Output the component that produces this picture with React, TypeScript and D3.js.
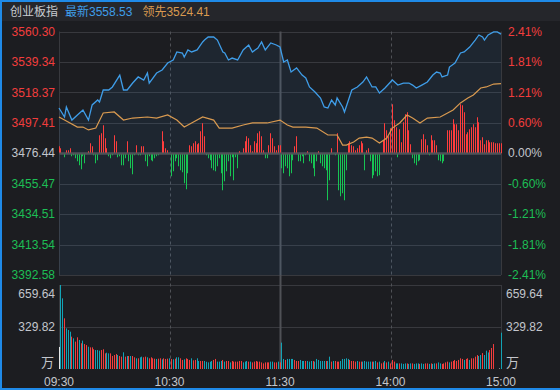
import React from 'react';
import * as d3 from 'd3';

const W = 560;
const H = 390;

const titleName = '创业板指';
const titleLatest = '最新3558.53';
const titleLead = '领先3524.41';

const PRE_CLOSE = 3476.44;
const priceTicks = [3560.30, 3539.34, 3518.37, 3497.41, 3476.44, 3455.47, 3434.51, 3413.54, 3392.58];
const pctTicks = ['2.41%', '1.81%', '1.21%', '0.60%', '0.00%', '-0.60%', '-1.21%', '-1.81%', '-2.41%'];
const timeLabels = ['09:30', '10:30', '11:30', '14:00', '15:00'];
const timeMinutes = [0, 60, 120, 180, 240];
const volumeTicks = [659.64, 329.82];
const volumeTickLabels = ['659.64', '329.82'];
const volumeUnit = '万';

const priceMinutes = [0,3,4,7,10,13,16,18,21,22,24,27,29,33,35,37,40,43,46,48,49,53,56,59,62,64,67,68,70,72,75,78,79,81,84,86,89,90,92,94,97,100,103,105,108,110,112,115,118,120,122,124,126,129,132,134,136,139,142,144,146,148,150,151,154,155,159,162,165,167,170,172,174,177,180,181,184,187,190,192,194,197,200,203,205,207,208,211,212,215,218,220,223,226,228,230,231,233,236,238,240];
const priceValues = [3507.6,3501.4,3508.3,3499.3,3502.8,3506.2,3499.3,3509.7,3513.1,3511.7,3520.0,3520.0,3522.1,3530.3,3520.0,3520.0,3524.8,3529.0,3526.9,3531.7,3524.8,3531.7,3533.8,3538.6,3540.7,3546.2,3545.5,3542.7,3547.6,3546.2,3547.6,3553.1,3554.4,3556.5,3556.5,3554.4,3546.2,3545.5,3540.7,3542.0,3540.7,3547.6,3551.0,3546.2,3548.9,3553.1,3547.6,3552.4,3551.0,3549.6,3539.3,3540.7,3532.4,3535.2,3530.3,3528.3,3522.1,3518.6,3514.5,3508.3,3507.6,3513.1,3509.7,3514.5,3508.3,3504.9,3520.0,3522.1,3525.5,3529.0,3522.1,3522.1,3517.9,3521.4,3525.5,3526.9,3523.4,3524.8,3524.8,3523.4,3521.4,3523.4,3525.5,3530.3,3532.4,3531.7,3529.0,3530.3,3535.8,3538.6,3545.5,3546.2,3549.6,3554.4,3557.9,3556.5,3554.4,3557.9,3560.0,3560.0,3558.53];

const leadMinutes = [0,3,10,13,16,20,24,30,35,40,48,53,59,64,68,72,78,84,87,94,100,105,113,120,124,127,134,140,146,151,154,156,160,163,167,170,174,178,181,185,189,192,196,200,207,211,214,218,222,225,229,232,236,240];
const leadValues = [3501.4,3499.3,3494.5,3494.5,3492.5,3493.8,3504.2,3504.9,3499.3,3500.7,3501.4,3500.7,3502.8,3499.3,3494.5,3497.3,3501.4,3499.3,3493.8,3493.8,3495.9,3497.3,3497.3,3499.3,3495.9,3494.5,3494.5,3493.8,3489.0,3489.0,3482.1,3482.1,3484.2,3486.9,3487.6,3486.9,3483.5,3486.9,3493.8,3497.3,3502.8,3500.7,3497.3,3500.7,3501.4,3504.2,3506.2,3511.1,3514.5,3516.6,3521.4,3522.1,3524.1,3524.41];

// per-minute buy/sell strength bars (0..240)
const strengthValues = [
  7,5,0,-4,3,3,5,-3,-2,-5,
  -8,-12,-16,-3,-10,0,2,10,7,-2,
  -10,-7,18,20,28,15,5,-3,-5,-2,
  18,12,-4,-3,-12,-12,-5,12,-8,-15,
  -21,-2,8,-2,-2,7,7,-8,-13,-3,
  -7,-8,-5,-3,-2,0,22,12,5,3,
  0,-23,-18,-8,-5,-13,-17,-19,-30,-36,
  -20,8,7,10,12,9,10,22,30,17,
  -2,-5,-7,-15,-17,-18,-13,-5,-20,-37,
  -28,-18,-8,-23,-4,-27,-4,-15,2,0,
  5,12,17,15,8,2,12,10,20,22,
  17,3,-5,-5,8,20,15,7,3,8,
  8,-15,-20,-13,-15,-23,-20,-7,7,17,
  -8,-8,-3,-10,-2,2,-8,-10,-15,-23,
  -8,2,-10,-13,-15,-17,-47,-27,5,0,
  -2,20,-37,-43,-40,-47,-17,10,12,8,
  7,3,5,8,12,10,-17,3,5,-8,
  -25,-22,-18,-23,-22,-1,13,30,23,17,
  25,49,33,26,-4,24,11,31,39,41,
  23,9,-5,-10,-12,-8,-7,14,19,14,
  8,-2,18,13,13,8,-7,-8,-10,-8,
  0,23,23,23,34,29,29,23,49,48,
  41,19,21,24,26,29,26,36,31,13,
  16,9,13,13,11,11,11,10,10,10,10,
];

// per-minute volume (万) 0..240
const volumeValues = [
  173,
  659.64,555,398,319,306,293,254,241,215,249,
  228,202,223,196,188,175,170,170,155,149,
  149,144,149,155,123,128,123,123,102,110,
  118,110,102,97,131,97,102,102,102,102,
  92,84,84,92,97,92,97,92,84,92,
  84,81,79,81,84,76,84,79,81,84,
  79,76,81,92,92,84,71,76,84,79,
  71,84,68,71,84,63,63,63,63,57,
  52,57,63,71,79,58,58,63,71,58,
  63,63,52,63,58,58,58,63,63,52,
  58,63,58,58,52,58,63,58,58,52,
  44,52,52,52,58,58,52,52,58,52,
  207,79,71,79,79,79,79,71,63,63,
  71,63,63,63,63,58,63,63,58,79,
  71,63,63,63,63,63,97,58,63,63,
  58,58,63,79,79,84,79,71,63,63,
  58,63,58,58,58,63,58,58,58,58,
  58,63,52,58,44,52,63,52,58,44,
  71,58,44,44,44,44,40,44,44,40,
  44,44,40,44,44,40,44,40,44,44,
  40,44,40,44,44,52,44,40,44,52,
  58,52,58,63,71,63,71,84,79,71,
  79,84,71,84,84,97,110,102,110,125,
  110,144,130,149,165,196,0,0,4,285,
];
// r = up (red), c = down (cyan), w = auction / flat (white)
const volumeDirections = (
  'w' +
  'ccrcccrcrr' + 'crcrrcrrrc' + 'ccrrrccrrr' + 'rcrrcrcrcr' + 'rcrccrrcrr' + 'rrcrrcrrrc' +
  'rcrccrrcrr' + 'rcrrccrrcc' + 'cccrrcccrc' + 'rrcrrrrrrc' + 'ccrcrrrrrr' + 'rrrrccrrcr' +
  'ccrccccrrr' + 'cccrcccrcc' + 'ccccrccrcr' + 'rrcccccrrr' + 'rcrrcccccr' + 'ccrcrrcrcr' +
  'rrccrcccrc' + 'crcccrccrr' + 'crccrccrrr' + 'rcrrrrrrrc' + 'rrcrrrrccr' + 'cccrrrwwwc'
).split('');

const C = {
  bg: '#1c1d21',
  titleBg: '#25262b',
  border: '#1f8ae8',
  grid: '#38393e',
  gridStrong: '#4f5156',
  red: '#f23d3d',
  barRed: '#ff3d3d',
  green: '#1dbf55',
  barGreen: '#17c553',
  cyan: '#12a3b5',
  white: '#e6e6e6',
  label: '#c3c6cc',
  blue: '#3f9de8',
  orange: '#d99a50',
  title: '#c8cbd0',
};

const FONT = "'Liberation Sans', Arial, 'Noto Sans CJK SC', sans-serif";

export default function App() {
  const left = 59;
  const right = 501;
  const priceTop = 31.5;
  const priceBottom = 275;
  const volTop = 285;
  const volBottom = 369;

  const x = d3.scaleLinear().domain([0, 240]).range([left, right]);
  const yMin = priceTicks[priceTicks.length - 1];
  const yMax = priceTicks[0];
  const y = d3.scaleLinear().domain([yMin, yMax]).range([priceBottom, priceTop]);
  const zeroY = y(PRE_CLOSE);
  const s = d3.scaleLinear().domain([-50, 50]).range([zeroY + 50, zeroY - 50]);
  const v = d3.scaleLinear().domain([0, volumeTicks[0]]).range([volBottom, volTop]);

  const pricePts = priceMinutes.map((m, i) => [m, priceValues[i]] as [number, number]);
  const leadPts = leadMinutes.map((m, i) => [m, leadValues[i]] as [number, number]);

  const line = d3.line<[number, number]>().x(d => x(d[0])).y(d => y(d[1]));
  const area = d3.area<[number, number]>().x(d => x(d[0])).y0(priceBottom).y1(d => y(d[1]));

  const labelColor = (val: number) =>
    Math.abs(val - PRE_CLOSE) < 0.005 ? C.label : val > PRE_CLOSE ? C.red : C.green;

  return (
    <svg
      width={W}
      height={H}
      style={{ position: 'absolute', left: 0, top: 0, display: 'block', background: C.bg }}
      fontFamily={FONT}
    >
      <rect x={0} y={0} width={W} height={H} fill={C.bg} />
      <rect x={0} y={0} width={W} height={21} fill={C.titleBg} />
      <rect x={0} y={0} width={W} height={2} fill={C.border} />
      <rect x={0} y={0} width={2} height={H} fill={C.border} />
      <rect x={0} y={H - 2} width={W} height={2} fill={C.border} />

      <text x={10} y={16} fontSize={12} fill={C.title}>
        {titleName}
        <tspan dx={7} fill={C.blue}>{titleLatest}</tspan>
        <tspan dx={10} fill={C.orange}>{titleLead}</tspan>
      </text>

      {/* price grid */}
      {priceTicks.map((t, i) => (
        <line key={'hg' + i} x1={left} x2={right} y1={Math.round(y(t)) + 0.5} y2={Math.round(y(t)) + 0.5}
          stroke={i === 4 ? C.gridStrong : C.grid} strokeWidth={i === 4 ? 2 : 1} />
      ))}
      {volumeTicks.map((t, i) => (
        <line key={'vg' + i} x1={left} x2={right} y1={Math.round(v(t)) + 0.5} y2={Math.round(v(t)) + 0.5}
          stroke={C.grid} strokeWidth={1} />
      ))}
      {[left, right].map((xx, i) => (
        <g key={'frame' + i}>
          <line x1={Math.round(xx) + 0.5} x2={Math.round(xx) + 0.5} y1={priceTop} y2={priceBottom} stroke={C.grid} />
          <line x1={Math.round(xx) + 0.5} x2={Math.round(xx) + 0.5} y1={volTop} y2={volBottom} stroke={C.grid} />
        </g>
      ))}
      {timeMinutes.slice(1, 4).map((m, i) => {
        const xx = Math.round(x(m)) + 0.5;
        return m === 120 ? (
          <line key={'vt' + i} x1={xx} x2={xx} y1={priceTop} y2={volBottom} stroke={C.gridStrong} strokeWidth={2} />
        ) : (
          <line key={'vt' + i} x1={xx} x2={xx} y1={priceTop} y2={volBottom} stroke={C.gridStrong}
            strokeWidth={1} strokeDasharray="3,3" />
        );
      })}

      {/* area under price */}
      <path d={area(pricePts) || ''} fill={C.blue} fillOpacity={0.08} />

      {/* strength bars */}
      {strengthValues.map((val, i) => {
        if (val === 0) return null;
        const xx = Math.floor(x(i));
        const y0 = s(0);
        const y1 = s(val);
        return (
          <rect key={'sb' + i} x={xx} width={1} y={Math.min(y0, y1)} height={Math.abs(y1 - y0)}
            fill={val > 0 ? C.barRed : C.barGreen} />
        );
      })}
      <line x1={left} x2={right} y1={Math.round(zeroY) + 0.5} y2={Math.round(zeroY) + 0.5} stroke={C.gridStrong} strokeWidth={2} />

      {/* lines */}
      <path d={line(leadPts) || ''} fill="none" stroke={C.orange} strokeWidth={1.2} />
      <path d={line(pricePts) || ''} fill="none" stroke={C.blue} strokeWidth={1.3} />

      {/* volume bars */}
      {volumeValues.map((val, i) => {
        if (val <= 0) return null;
        const dir = volumeDirections[i];
        const xx = Math.floor(x(i));
        return (
          <rect key={'vb' + i} x={xx} width={1} y={v(val)} height={volBottom - v(val)}
            fill={dir === 'r' ? C.red : dir === 'c' ? C.cyan : C.white} />
        );
      })}

      {/* price labels */}
      {priceTicks.map((t, i) => (
        <text key={'pl' + i} x={55} y={y(t)} dy="0.35em" textAnchor="end" fontSize={12} fill={labelColor(t)}>
          {t.toFixed(2)}
        </text>
      ))}
      {pctTicks.map((t, i) => (
        <text key={'pr' + i} x={508} y={y(priceTicks[i])} dy="0.35em" textAnchor="start" fontSize={12}
          fill={labelColor(priceTicks[i])}>
          {t}
        </text>
      ))}

      {/* volume labels */}
      {volumeTickLabels.map((t, i) => (
        <g key={'vl' + i}>
          <text x={55} y={i === 0 ? v(volumeTicks[i]) + 8.5 : v(volumeTicks[i])} dy="0.35em" textAnchor="end" fontSize={12} fill={C.label}>{t}</text>
          <text x={506} y={i === 0 ? v(volumeTicks[i]) + 8.5 : v(volumeTicks[i])} dy="0.35em" textAnchor="start" fontSize={12} fill={C.label}>{t}</text>
        </g>
      ))}
      <text x={54} y={362} dy="0.35em" textAnchor="end" fontSize={13} fill={C.label}>{volumeUnit}</text>
      <text x={506} y={362} dy="0.35em" textAnchor="start" fontSize={13} fill={C.label}>{volumeUnit}</text>

      {/* time labels */}
      {timeLabels.map((t, i) => (
        <text key={'tl' + i} x={x(timeMinutes[i])} y={382} dy="0.35em" textAnchor="middle" fontSize={12} fill={C.label}>
          {t}
        </text>
      ))}
    </svg>
  );
}
